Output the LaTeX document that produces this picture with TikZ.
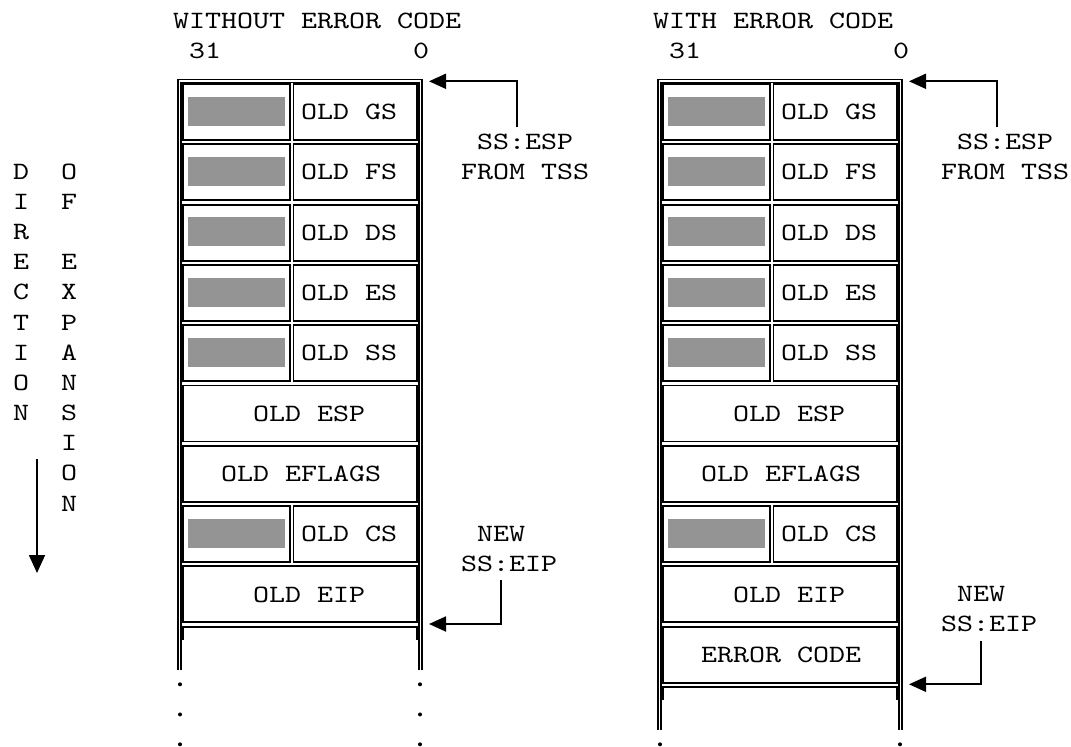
\documentclass[tikz,border=0pt]{standalone}
\usepackage{fontspec}
\usetikzlibrary{arrows.meta}
\newfontfamily\monofnt{lmmono10-regular.otf}[FakeStretch=1.224]
\newcommand{\splitrow}[4]{%
  \pgfmathsetmacro\rowtop{84+60.3*#2}%
  \node[cellbox, minimum width=107pt, minimum height=56pt] (#4l) at ({236.5+#1},{\rowtop+28}) {};
  \node[graybox, minimum width=97pt, minimum height=29pt] (#4g) at ({236.5+#1},{\rowtop+27.2}) {};
  \node[cellbox, minimum width=123.5pt, minimum height=56pt] (#4r) at ({355.25+#1},{\rowtop+28}) {};
  \node[txt] (#4t) at ({301+#1},{\rowtop+28}) {#3};
}
\newcommand{\fullrow}[5]{%
  \pgfmathsetmacro\rowtop{84+60.3*#2}%
  \node[cellbox, minimum width=234pt, minimum height=56pt] (#5c) at ({300+#1},{\rowtop+28}) {};
  \node[txt] (#5t) at ({173+16*#4+#1},{\rowtop+28}) {#3};
}
\newcommand{\openrow}[3]{%
  \pgfmathsetmacro\rowtop{84+60.3*#2}%
  \coordinate (#3a) at ({183+#1},{\rowtop+13.3});
  \coordinate (#3b) at ({183+#1},{\rowtop});
  \coordinate (#3c) at ({417+#1},{\rowtop});
  \coordinate (#3d) at ({417+#1},{\rowtop+13.3});
  \draw[line width=1.9pt] (#3a) -- (#3b) -- (#3c) -- (#3d);
}
\newcommand{\stackframe}[3]{%
  \coordinate (#3o1) at ({178+#1},#2);
  \coordinate (#3o2) at ({178+#1},79.5);
  \coordinate (#3o3) at ({422+#1},79.5);
  \coordinate (#3o4) at ({422+#1},#2);
  \coordinate (#3i1) at ({181+#1},#2);
  \coordinate (#3i2) at ({181+#1},82.5);
  \coordinate (#3i3) at ({419+#1},82.5);
  \coordinate (#3i4) at ({419+#1},#2);
  \draw[frameline] (#3o1) -- (#3o2) -- (#3o3) -- (#3o4);
  \draw[frameline] (#3i1) -- (#3i2) -- (#3i3) -- (#3i4);
}
\begin{document}
\begin{tikzpicture}[x=1pt,y=-1pt,
  txt/.style={font=\monofnt\fontsize{24.9}{30}\selectfont, inner sep=0pt, outer sep=0pt, anchor=west},
  frameline/.style={line width=1.1pt},
  cellbox/.style={draw, line width=1.9pt, inner sep=0pt, outer sep=0pt},
  graybox/.style={fill=black!42, inner sep=0pt, outer sep=0pt},
  arr/.style={line width=1.8pt, -{Triangle[length=17pt,width=15pt]}},
  dot/.style={circle, fill, inner sep=0pt, minimum size=4pt}]
\useasboundingbox (0,0) rectangle (1071,747);

% ---------- headers ----------
\node[txt] (hL) at (173,21) {WITHOUT ERROR CODE};
\node[txt] (hL31) at (189,51.15) {31};
\node[txt] (hL0) at (413,51.15) {0};
\node[txt] (hR) at (653,21) {WITH ERROR CODE};
\node[txt] (hR31) at (669,51.15) {31};
\node[txt] (hR0) at (893,51.15) {0};

% ---------- direction of expansion ----------
\foreach \ch [count=\i from 5] in {D,I,R,E,C,T,I,O,N}
  \node[txt] (dirA\i) at (13,{21+30.15*\i}) {\ch};
\foreach \ch/\k in {O/5,F/6,E/8,X/9,P/10,A/11,N/12,S/13,I/14,O/15,N/16}
  \node[txt] (dirB\k) at (61,{21+30.15*\k}) {\ch};
\coordinate (dirTop) at (37,459);
\coordinate (dirTip) at (37,573);
\draw[line width=1.8pt, -{Triangle[length=18pt,width=16pt]}] (dirTop) -- (dirTip);

% ---------- left stack ----------
\stackframe{0}{670}{FL}
\splitrow{0}{0}{OLD GS}{Lgs}
\splitrow{0}{1}{OLD FS}{Lfs}
\splitrow{0}{2}{OLD DS}{Lds}
\splitrow{0}{3}{OLD ES}{Les}
\splitrow{0}{4}{OLD SS}{Lss}
\fullrow{0}{5}{OLD ESP}{5}{Lesp}
\fullrow{0}{6}{OLD EFLAGS}{3}{Lefl}
\splitrow{0}{7}{OLD CS}{Lcs}
\fullrow{0}{8}{OLD EIP}{5}{Leip}
\openrow{0}{9}{Lopen}
\foreach \yy [count=\j] in {684.3,714.45,744.3} {
  \node[dot] (Ldl\j) at (180,\yy) {};
  \node[dot] (Ldr\j) at (420,\yy) {};
}

% ---------- right stack ----------
\stackframe{480}{730}{FR}
\splitrow{480}{0}{OLD GS}{Rgs}
\splitrow{480}{1}{OLD FS}{Rfs}
\splitrow{480}{2}{OLD DS}{Rds}
\splitrow{480}{3}{OLD ES}{Res}
\splitrow{480}{4}{OLD SS}{Rss}
\fullrow{480}{5}{OLD ESP}{5}{Resp}
\fullrow{480}{6}{OLD EFLAGS}{3}{Refl}
\splitrow{480}{7}{OLD CS}{Rcs}
\fullrow{480}{8}{OLD EIP}{5}{Reip}
\fullrow{480}{9}{ERROR CODE}{3}{Rerr}
\openrow{480}{10}{Ropen}
\node[dot] (Rdl) at (660,744.3) {};
\node[dot] (Rdr) at (900,744.3) {};

% ---------- pointer labels and arrows (left) ----------
\node[txt] (Lss1) at (477,141.6) {SS:ESP};
\node[txt] (Lss2) at (461,171.75) {FROM TSS};
\coordinate (LespStart) at (517,127);
\coordinate (LespTip) at (429,81.3);
\draw[arr] (LespStart) |- (LespTip);
\node[txt] (Lnew1) at (477,533.55) {NEW};
\node[txt] (Lnew2) at (461,563.7) {SS:EIP};
\coordinate (LeipStart) at (501,580);
\coordinate (LeipTip) at (429,624);
\draw[arr] (LeipStart) |- (LeipTip);

% ---------- pointer labels and arrows (right) ----------
\node[txt] (Rss1) at (957,141.6) {SS:ESP};
\node[txt] (Rss2) at (941,171.75) {FROM TSS};
\coordinate (RespStart) at (997,127);
\coordinate (RespTip) at (909,81.3);
\draw[arr] (RespStart) |- (RespTip);
\node[txt] (Rnew1) at (957,593.85) {NEW};
\node[txt] (Rnew2) at (941,624) {SS:EIP};
\coordinate (ReipStart) at (981,641);
\coordinate (ReipTip) at (909,684.3);
\draw[arr] (ReipStart) |- (ReipTip);
\end{tikzpicture}
\end{document}
